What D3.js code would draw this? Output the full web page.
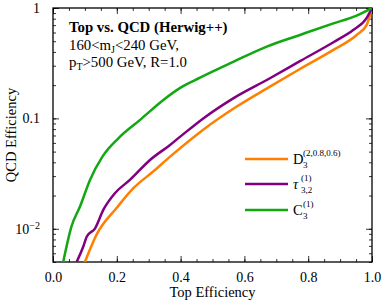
<!DOCTYPE html>
<html>
<head>
<meta charset="utf-8">
<script src="https://cdn.jsdelivr.net/npm/d3@7"></script>
<style>
  body { margin: 0; background: #fff; }
  svg text { font-family: "Liberation Serif", "Times New Roman", serif; }
</style>
</head>
<body>
<div id="container"></div>
<script>
// ROC points: [top efficiency, QCD efficiency]
const d3Curve = [[0.100,0.005],[0.137,0.0089],[0.2,0.0155],[0.252,0.0233],[0.314,0.033],[0.367,0.045],[0.471,0.079],[0.576,0.128],[0.680,0.194],[0.774,0.28],[0.879,0.417],[0.952,0.57],[0.983,0.70],[0.997,0.93],[1.0,1.0]]
const tauCurve = [[0.074,0.005],[0.095,0.0069],[0.106,0.0085],[0.132,0.0101],[0.158,0.0149],[0.194,0.021],[0.241,0.0277],[0.304,0.042],[0.367,0.0575],[0.398,0.068],[0.471,0.1],[0.565,0.152],[0.680,0.231],[0.774,0.33],[0.879,0.49],[0.941,0.632],[0.983,0.81],[1.0,1.0]]
const c3Curve = [[0.032,0.005],[0.058,0.0105],[0.085,0.016],[0.116,0.0277],[0.155,0.045],[0.205,0.066],[0.273,0.097],[0.346,0.147],[0.400,0.19],[0.461,0.234],[0.565,0.325],[0.670,0.447],[0.774,0.57],[0.879,0.726],[0.95,0.85],[1.0,1.0]]

const xMajor = [0, 0.2, 0.4, 0.6, 0.8, 1.0]
const yMajor = [0.01, 0.1, 1]

const width = 382
const height = 303
const margin = {left: 53, right: 10, top: 8, bottom: 41}

const svg = d3.select("#container")
              .append("svg")
              .attr("width", width)
              .attr("height", height)
              .attr("font-family", "Liberation Serif")

const x = d3.scaleLinear()
            .domain([0, 1])
            .range([margin.left, width - margin.right])
const y = d3.scaleLog()
            .domain([0.005, 1])
            .range([height - margin.bottom, margin.top])

const xMinor = d3.range(0, 1.0001, 0.05).map(v => +v.toFixed(2))

// ticks, all pointing inward
function tickGroup(axis, tf){
  const g = svg.append("g").attr("transform", tf).call(axis)
  g.attr("font-family", null)
  g.select(".domain").remove()
  g.selectAll("line").attr("stroke", "#000").attr("stroke-width", 0.8)
  return g
}
tickGroup(d3.axisBottom(x).tickValues(xMinor).tickSize(-3).tickFormat(""), `translate(0,${height - margin.bottom})`)
tickGroup(d3.axisTop(x).tickValues(xMinor).tickSize(-3).tickFormat(""), `translate(0,${margin.top})`)
tickGroup(d3.axisTop(x).tickValues(xMajor).tickSize(-6).tickFormat(""), `translate(0,${margin.top})`)
const xg = tickGroup(d3.axisBottom(x).tickValues(xMajor).tickSize(-6).tickPadding(10).tickFormat(d3.format(".1f")), `translate(0,${height - margin.bottom})`)
xg.selectAll("text").attr("font-size", 14).attr("fill", "#000")

const yMinor = y.ticks()
tickGroup(d3.axisLeft(y).tickValues(yMinor).tickSize(-3).tickFormat(""), `translate(${margin.left},0)`)
tickGroup(d3.axisRight(y).tickValues(yMinor).tickSize(-3).tickFormat(""), `translate(${width - margin.right},0)`)
tickGroup(d3.axisRight(y).tickValues(yMajor).tickSize(-6).tickFormat(""), `translate(${width - margin.right},0)`)
const yg = tickGroup(d3.axisLeft(y).tickValues(yMajor).tickSize(-6).tickPadding(13).tickFormat(d => d == 1 ? "1" : d == 0.1 ? "0.1" : ""), `translate(${margin.left},0)`)
yg.selectAll("text").attr("font-size", 14).attr("fill", "#000")
yg.selectAll(".tick").filter(d => d == 0.01).select("text")
  .call(t => {
    t.append("tspan").text("10")
    t.append("tspan").attr("font-size", 10).attr("dy", -5).text("\u22122")
  })

// frame
svg.append("rect")
   .attr("x", margin.left).attr("y", margin.top)
   .attr("width", width - margin.left - margin.right)
   .attr("height", height - margin.top - margin.bottom)
   .attr("fill", "none").attr("stroke", "#000").attr("stroke-width", 1.3)

svg.append("clipPath").attr("id", "clip")
   .append("rect")
   .attr("x", margin.left).attr("y", margin.top)
   .attr("width", width - margin.left - margin.right)
   .attr("height", height - margin.top - margin.bottom)

const line = d3.line().x(d => x(d[0])).y(d => y(d[1])).curve(d3.curveMonotoneX)

const series = [
  {data: d3Curve, color: "#ff8000"},
  {data: tauCurve, color: "#800080"},
  {data: c3Curve, color: "#11a811"}
]

svg.append("g").attr("clip-path", "url(#clip)")
   .selectAll("path")
   .data(series)
   .enter()
   .append("path")
   .attr("d", d => line(d.data))
   .attr("fill", "none")
   .attr("stroke", d => d.color)
   .attr("stroke-width", 2.5)
   .attr("stroke-linejoin", "round")

// axis titles
svg.append("text")
   .attr("x", (margin.left + width - margin.right) / 2)
   .attr("y", 297)
   .attr("text-anchor", "middle")
   .attr("font-size", 14.5)
   .text("Top Efficiency")
svg.append("text")
   .attr("transform", `translate(16,${(margin.top + height - margin.bottom) / 2}) rotate(-90)`)
   .attr("text-anchor", "middle")
   .attr("font-size", 14.5)
   .text("QCD Efficiency")

// info text
const info = svg.append("g").attr("font-size", 14.8)
info.append("text").attr("x", 69).attr("y", 32).attr("font-weight", "bold").text("Top vs. QCD (Herwig++)")
const l2 = info.append("text").attr("x", 69).attr("y", 50)
l2.append("tspan").text("160<m")
l2.append("tspan").attr("font-size", 10).attr("dy", 3).text("J")
l2.append("tspan").attr("dy", -3).text("<240 GeV,")
const l3 = info.append("text").attr("x", 69).attr("y", 67)
l3.append("tspan").text("p")
l3.append("tspan").attr("font-size", 10).attr("dy", 3).text("T")
l3.append("tspan").attr("dy", -3).text(">500 GeV, R=1.0")

// legend
const legend = [
  {name: "D", sup: "(2,0.8,0.6)", sub: "3", color: "#ff8000", italic: false},
  {name: "\u03c4", sup: "(1)", sub: "3,2", color: "#800080", italic: true},
  {name: "C", sup: "(1)", sub: "3", color: "#11a811", italic: false}
]
const ly = [159, 184, 210]
legend.forEach((d, i) => {
  svg.append("line")
     .attr("x1", 245).attr("x2", 288)
     .attr("y1", ly[i]).attr("y2", ly[i])
     .attr("stroke", d.color).attr("stroke-width", 2.5)
  const baseW = d.name == "\u03c4" ? 8 : 10
  svg.append("text").attr("x", 293).attr("y", ly[i] + 5).attr("font-size", 14.5)
     .attr("font-style", d.italic ? "italic" : null).text(d.name)
  svg.append("text").attr("x", 293 + baseW).attr("y", ly[i] - 3).attr("font-size", 9).text(d.sup)
  svg.append("text").attr("x", 293 + baseW).attr("y", ly[i] + 9).attr("font-size", 9).text(d.sub)
})
</script>
</body>
</html>
